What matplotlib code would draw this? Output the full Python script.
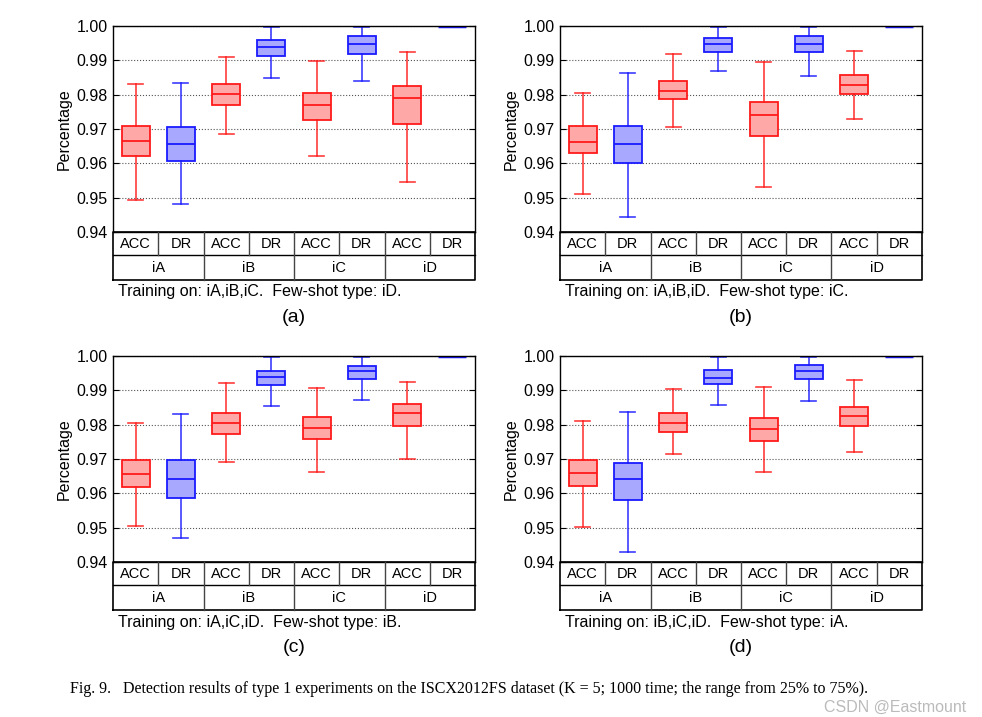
import matplotlib
matplotlib.use('Agg')
import matplotlib.pyplot as plt

plt.rcParams['font.family'] = ['Liberation Sans', 'DejaVu Sans']

metrics = ['ACC', 'DR', 'ACC', 'DR', 'ACC', 'DR', 'ACC', 'DR']
groups = ['iA', 'iB', 'iC', 'iD']
panel_labels = ['(a)', '(b)', '(c)', '(d)']
subtitles = ['Training on: iA,iB,iC.  Few-shot type: iD.',
             'Training on: iA,iB,iD.  Few-shot type: iC.',
             'Training on: iA,iC,iD.  Few-shot type: iB.',
             'Training on: iB,iC,iD.  Few-shot type: iA.']
yticks = [0.94, 0.95, 0.96, 0.97, 0.98, 0.99, 1.00]

# panel (a)
low_a = [0.9492, 0.9481, 0.9684, 0.9848, 0.9620, 0.9839, 0.9547, 1.0]
q1_a  = [0.9622, 0.9606, 0.9771, 0.9914, 0.9726, 0.9919, 0.9714, 1.0]
med_a = [0.9665, 0.9655, 0.9803, 0.9938, 0.9769, 0.9949, 0.9789, 1.0]
q3_a  = [0.9710, 0.9707, 0.9832, 0.9959, 0.9805, 0.9972, 0.9824, 1.0]
high_a = [0.9830, 0.9835, 0.9909, 0.9997, 0.9898, 0.9997, 0.9923, 1.0]
# panel (b)
low_b = [0.9510, 0.9443, 0.9707, 0.9870, 0.9531, 0.9854, 0.9728, 1.0]
q1_b  = [0.9629, 0.9601, 0.9786, 0.9924, 0.9681, 0.9924, 0.9803, 1.0]
med_b = [0.9663, 0.9656, 0.9812, 0.9949, 0.9740, 0.9949, 0.9827, 1.0]
q3_b  = [0.9710, 0.9710, 0.9841, 0.9965, 0.9780, 0.9972, 0.9857, 1.0]
high_b = [0.9805, 0.9864, 0.9919, 0.9997, 0.9895, 0.9997, 0.9928, 1.0]
# panel (c)
low_c = [0.9506, 0.9471, 0.9691, 0.9854, 0.9663, 0.9871, 0.9701, 1.0]
q1_c  = [0.9619, 0.9586, 0.9772, 0.9915, 0.9758, 0.9932, 0.9795, 1.0]
med_c = [0.9655, 0.9641, 0.9804, 0.9938, 0.9790, 0.9957, 0.9834, 1.0]
q3_c  = [0.9696, 0.9696, 0.9835, 0.9955, 0.9822, 0.9972, 0.9859, 1.0]
high_c = [0.9804, 0.9831, 0.9922, 0.9997, 0.9908, 0.9997, 0.9924, 1.0]
# panel (d)
low_d = [0.9503, 0.9429, 0.9714, 0.9857, 0.9661, 0.9870, 0.9720, 1.0]
q1_d  = [0.9620, 0.9581, 0.9778, 0.9917, 0.9753, 0.9932, 0.9795, 1.0]
med_d = [0.9660, 0.9641, 0.9804, 0.9937, 0.9788, 0.9956, 0.9825, 1.0]
q3_d  = [0.9698, 0.9689, 0.9835, 0.9960, 0.9819, 0.9975, 0.9852, 1.0]
high_d = [0.9812, 0.9836, 0.9903, 0.9997, 0.9911, 0.9997, 0.9930, 1.0]

panels = [(low_a, q1_a, med_a, q3_a, high_a),
          (low_b, q1_b, med_b, q3_b, high_b),
          (low_c, q1_c, med_c, q3_c, high_c),
          (low_d, q1_d, med_d, q3_d, high_d)]

RED_E, RED_F = '#ff1a1a', '#ffa8a8'
BLUE_E, BLUE_F = '#1a1aff', '#a8a8ff'

W, H = 982, 717
fig = plt.figure(figsize=(W / 100, H / 100), dpi=100)

# pixel layout: (left, top) of each main axes
origins = [(113, 26), (560, 26), (113, 356), (560, 356)]
ax_w, ax_h = 362, 206
tab_h = 48

for i, (lx, ty) in enumerate(origins):
    low, q1, med, q3, high = panels[i]
    ax = fig.add_axes([lx / W, 1 - (ty + ax_h) / H, ax_w / W, ax_h / H])
    stats = []
    for k in range(8):
        stats.append(dict(whislo=low[k], q1=q1[k], med=med[k], q3=q3[k],
                          whishi=high[k], fliers=[]))
    bp = ax.bxp(stats, positions=range(1, 9), widths=0.62, capwidths=0.33,
                patch_artist=True, showfliers=False)
    for k in range(8):
        ec, fc = (RED_E, RED_F) if k % 2 == 0 else (BLUE_E, BLUE_F)
        bp['boxes'][k].set(facecolor=fc, edgecolor=ec, linewidth=1.3)
        bp['medians'][k].set(color=ec, linewidth=1.3)
        for w in bp['whiskers'][2 * k:2 * k + 2]:
            w.set(color=ec, linewidth=1.2, alpha=0.85)
        for c in bp['caps'][2 * k:2 * k + 2]:
            c.set(color=ec, linewidth=1.2, alpha=0.85)
    # DR iD box collapsed at 1.0
    bp['boxes'][7].set(linewidth=2.5)
    ax.set_xlim(0.5, 8.5)
    ax.set_ylim(0.94, 1.00)
    ax.set_yticks(yticks)
    ax.set_yticklabels(['%.2f' % v for v in yticks], fontsize=11.5)
    ax.set_xticks([])
    ax.tick_params(axis='y', direction='in', length=4, right=True, pad=4)
    ax.yaxis.grid(True, linestyle=':', color='#555555', linewidth=0.8)
    ax.set_axisbelow(True)
    ax.set_ylabel('Percentage', fontsize=11.5, labelpad=3)
    for s in ax.spines.values():
        s.set_linewidth(1.0)

    # category table below
    tax = fig.add_axes([lx / W, 1 - (ty + ax_h + tab_h) / H, ax_w / W, tab_h / H])
    tax.set_xlim(0.5, 8.5)
    tax.set_ylim(0, 2)
    tax.axis('off')
    tax.plot([0.5, 8.5, 8.5, 0.5, 0.5], [0, 0, 2, 2, 0], color='black', lw=1.2,
             clip_on=False)
    tax.plot([0.5, 8.5], [1.05, 1.05], color='black', lw=1.0, clip_on=False)
    for k in range(1, 8):
        x = 0.5 + k
        if k % 2 == 0:
            tax.plot([x, x], [0, 2], color='#444444', lw=1.0, clip_on=False)
        else:
            tax.plot([x, x], [1.05, 2], color='#444444', lw=1.0, clip_on=False)
    for k in range(8):
        tax.text(k + 1, 1.52, metrics[k], ha='center', va='center', fontsize=10.5)
    for g in range(4):
        tax.text(2 * g + 1.5, 0.52, groups[g], ha='center', va='center', fontsize=10.5)

    fig.text((lx + 5) / W, 1 - (ty + ax_h + tab_h + 12) / H, subtitles[i],
             ha='left', va='center', fontsize=11.5)
    fig.text((lx + ax_w / 2) / W, 1 - (ty + ax_h + tab_h + 38) / H, panel_labels[i],
             ha='center', va='center', fontsize=14)

fig.text(70 / W, 1 - 689 / H,
         'Fig. 9.   Detection results of type 1 experiments on the ISCX2012FS dataset '
         '(K = 5; 1000 time; the range from 25% to 75%).',
         ha='left', va='center', fontsize=11.5, family=['Liberation Serif', 'DejaVu Serif'])
fig.text(966 / W, 1 - 707 / H, 'CSDN @Eastmount', ha='right', va='center',
         fontsize=11.5, color='#aaaaaa', alpha=0.8)

fig.savefig('out.png', dpi=100)
